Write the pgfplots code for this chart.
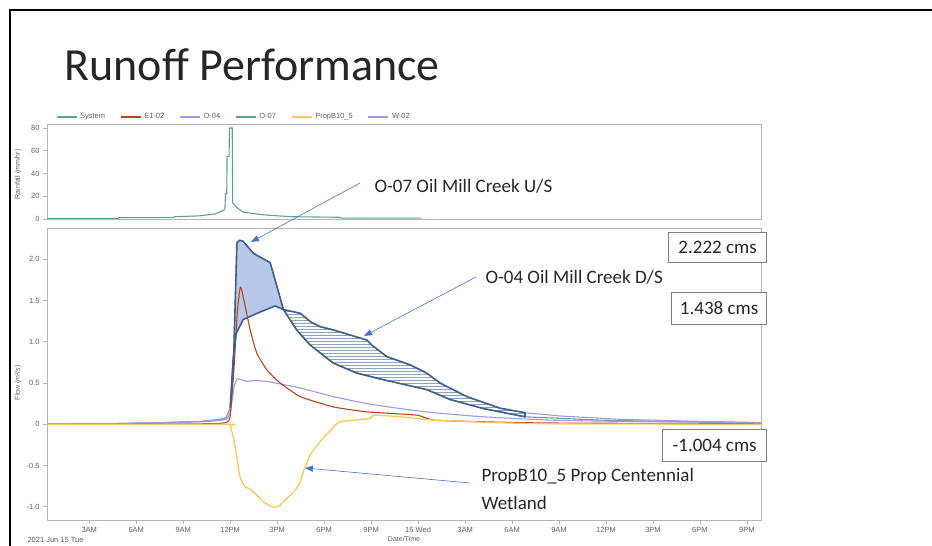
\documentclass[border=0pt]{standalone}
\usepackage{fontspec}
\setmainfont{Carlito}
\newfontfamily\chartfont{Liberation Sans}
\usepackage{pgfplots}
\usepackage{pgfplotstable}
\pgfplotsset{compat=1.18}
\usetikzlibrary{patterns,arrows.meta}

\definecolor{sysgreen}{HTML}{5BA38D}
\definecolor{eorange}{HTML}{B3471F}
\definecolor{lav}{HTML}{A197EE}
\definecolor{propyel}{HTML}{F6C958}
\definecolor{darkblue}{HTML}{41618A}
\definecolor{fillblue}{HTML}{B7C8E8}
\definecolor{hatch}{HTML}{8FA3C0}
\definecolor{arrowblue}{HTML}{4A72C2}
\definecolor{tickgray}{HTML}{5F5F5F}
\definecolor{axgray}{HTML}{B4B4B4}
\definecolor{boxgray}{HTML}{808080}

% x = hours after midnight, 15 Jun 2021
\pgfplotstableread{
h v
0.3 0.5
4.85 0.5
4.9 1.2
8.38 1.2
8.43 2.0
10.08 2.8
11.04 4.5
11.55 7.5
11.66 8.5
11.70 22
11.78 22
11.80 55
11.93 55
11.95 80
12.13 80
12.16 14
12.43 10
12.83 6
13.91 4
14.74 3
16.02 2
19.02 1.5
19.1 0.8
24.19 0.8
}\tabrain

\pgfplotstableread{
h v
0.3 0
3.70 0.005
6.89 0.015
10.08 0.035
11.36 0.06
11.74 0.08
12.00 0.2
12.21 0.74
12.43 2.20
12.59 2.23
12.81 2.22
13.49 2.07
14.55 1.96
15.40 1.39
16.26 1.14
17.11 0.96
18.59 0.74
20.09 0.62
21.78 0.54
24.55 0.42
26.04 0.30
28.17 0.19
30.83 0.09
35.62 0.05
42.00 0.025
45.9 0.015
}\tabOseven

\pgfplotstableread{
h v
0.3 0
3.70 0.005
6.89 0.015
10.08 0.03
11.36 0.05
11.74 0.07
12.00 0.2
12.19 0.8
12.38 1.1
12.83 1.27
13.91 1.36
14.87 1.435
15.40 1.39
16.47 1.345
16.79 1.297
17.11 1.244
17.74 1.183
18.59 1.143
19.66 1.082
20.73 1.02
21.04 0.96
22.00 0.82
23.49 0.72
24.55 0.62
25.40 0.50
27.11 0.335
29.24 0.194
30.83 0.14
33.06 0.10
36.89 0.06
42.00 0.035
45.9 0.02
}\tabOfour

% shaded area where O-07 runs above O-04 (O-07 forward, O-04 back)
\pgfplotstableread{
h v
12.00 0.2
12.21 0.74
12.43 2.20
12.59 2.23
12.81 2.22
13.49 2.07
14.55 1.96
15.40 1.39
14.87 1.435
13.91 1.36
12.83 1.27
12.38 1.1
12.19 0.8
12.00 0.2
}\tabAreaA

% hatched area where O-04 runs above O-07 (O-04 forward, O-07 back)
\pgfplotstableread{
h v
15.40 1.39
16.47 1.345
16.79 1.297
17.11 1.244
17.74 1.183
18.59 1.143
19.66 1.082
20.73 1.02
21.04 0.96
22.00 0.82
23.49 0.72
24.55 0.62
25.40 0.50
27.11 0.335
29.24 0.194
30.83 0.14
30.83 0.09
28.17 0.19
26.04 0.30
24.55 0.42
21.78 0.54
20.09 0.62
18.59 0.74
17.11 0.96
16.26 1.14
15.40 1.39
}\tabAreaB

\pgfplotstableread{
h v
0.3 0
10.08 0.005
11.74 0.02
12.00 0.1
12.25 0.7
12.45 1.35
12.64 1.66
12.77 1.60
12.96 1.43
13.28 1.14
13.70 0.86
14.34 0.66
15.19 0.50
16.47 0.335
18.59 0.21
20.73 0.15
23.92 0.11
24.98 0.05
28.15 0.03
32.43 0.015
45.9 0.005
}\tabEone

\pgfplotstableread{
h v
0.3 0
3.70 0.005
10.08 0.03
11.74 0.06
12.00 0.15
12.25 0.45
12.43 0.55
12.70 0.54
13.07 0.52
13.47 0.53
14.34 0.52
15.40 0.48
16.47 0.44
18.59 0.335
20.73 0.25
22.85 0.19
24.98 0.14
28.17 0.09
32.43 0.05
36.89 0.035
45.9 0.02
}\tabWtwo

\pgfplotstableread{
h v
0.3 0
11.87 0
12.00 -0.02
12.21 -0.17
12.43 -0.41
12.64 -0.65
12.96 -0.76
13.21 -0.78
13.49 -0.82
14.13 -0.94
14.66 -1.0
14.98 -1.004
15.19 -0.98
15.62 -0.90
16.15 -0.80
16.47 -0.70
16.68 -0.57
17.11 -0.37
17.74 -0.21
18.38 -0.08
19.02 0.03
20.94 0.07
21.15 0.11
22.85 0.09
24.98 0.05
28.15 0.025
32.43 0.005
45.9 0
}\tabProp

\pgfplotsset{
  slideaxis/.style={
    scale only axis, width=714pt, xmin=0.3, xmax=45.9,
    axis line style={axgray, line width=0.8pt},
    tick style={axgray, line width=0.6pt},
    tick align=outside, major tick length=4pt,
    xtick pos=bottom, ytick pos=left,
    ticklabel style={font=\chartfont\fontsize{7.5}{8}\selectfont, text=tickgray},
    label style={font=\chartfont\fontsize{7}{8}\selectfont, text=tickgray},
  },
}

\begin{document}
\begin{tikzpicture}
\path[use as bounding box] (0pt,0pt) rectangle (932pt,-546pt);
\draw[line width=2.5pt] (10pt,-546pt) -- (10pt,-10pt) -- (932pt,-10pt);
\node[anchor=base west, font=\fontsize{46}{50}\selectfont, text=black!85] at (61pt,-80pt) {Runoff Performance};

% rainfall panel
\begin{axis}[slideaxis,
  at={(47pt,-124pt)}, anchor=north west, height=95pt,
  ymin=0, ymax=83.5,
  xtick=\empty,
  ytick={0,20,40,60,80}, yticklabels={0,20,40,60,80},
  ylabel={Rainfall (mm/hr)},
  ylabel style={at={(axis description cs:-0.0406,0.47)}, anchor=center},
  legend columns=6,
  legend style={at={(axis description cs:0.008,1.074)}, anchor=west, draw=none, fill=none,
    font=\chartfont\fontsize{7.5}{8}\selectfont, text=tickgray,
    /tikz/every odd column/.append style={column sep=1pt},
    /tikz/every even column/.append style={column sep=13pt}},
  legend image code/.code={\draw[#1, line width=1.2pt] (0pt,0pt) -- (20pt,0pt);},
]
\addplot[sysgreen, line width=1.1pt] table[x=h, y=v] {\tabrain};
\addlegendimage{eorange}
\addlegendimage{lav}
\addlegendimage{sysgreen}
\addlegendimage{propyel}
\addlegendimage{lav}
\legend{System,E1-02,O-04,O-07,PropB10\_5,W-02}
\end{axis}

% flow panel
\begin{axis}[slideaxis,
  at={(47pt,-228pt)}, anchor=north west, height=292pt,
  ymin=-1.161, ymax=2.379,
  xtick={3,6,...,45},
  xticklabels={3AM,6AM,9AM,12PM,3PM,6PM,9PM,16 Wed,3AM,6AM,9AM,12PM,3PM,6PM,9PM},
  ytick={-1,-0.5,0,0.5,1,1.5,2},
  yticklabels={-1.0,-0.5,0,0.5,1.0,1.5,2.0},
  ylabel={Flow (m³/s)},
  ylabel style={at={(axis description cs:-0.0406,0.47)}, anchor=center},
  xlabel={Date/Time},
  xlabel style={at={(axis description cs:0.5,-0.065)}, anchor=center},
]
\addplot[sysgreen, line width=1.1pt] table[x=h, y=v] {\tabOseven};
\addplot[lav, line width=1.1pt] table[x=h, y=v] {\tabOfour};
\addplot[fill=fillblue, draw=none] table[x=h, y=v] {\tabAreaA};
\addplot[pattern=horizontal lines, pattern color=hatch, draw=none] table[x=h, y=v] {\tabAreaB};
\addplot[lav, line width=1.1pt, smooth, tension=0.3] table[x=h, y=v] {\tabWtwo};
\addplot[eorange, line width=1.1pt, smooth, tension=0.3] table[x=h, y=v] {\tabEone};
\addplot[propyel, line width=1.3pt, smooth, tension=0.3] table[x=h, y=v] {\tabProp};
\addplot[darkblue, line width=1.6pt, line join=round] table[x=h, y=v] {\tabAreaA};
\addplot[darkblue, line width=1.6pt, line join=round] table[x=h, y=v] {\tabAreaB};
\end{axis}

\begin{scope}[x=1pt, y=-1pt]
\node[anchor=west, font=\chartfont\fontsize{7.5}{8}\selectfont, text=tickgray] at (24,540) {2021 Jun 15 Tue};
\begin{scope}[font=\fontsize{19}{23}\selectfont, text=black!85]
\node[anchor=base west] at (371,192) {O-07 Oil Mill Creek U/S};
\node[anchor=base west] at (482,283) {O-04 Oil Mill Creek D/S};
\node[anchor=base west] at (478,481) {PropB10\_5 Prop Centennial};
\node[anchor=base west] at (478,509) {Wetland};
\node[draw=boxgray, fill=white, line width=0.8pt, minimum width=98pt, minimum height=30pt, inner sep=0pt, anchor=north east] at (767,232) {2.222 cms};
\node[draw=boxgray, fill=white, line width=0.8pt, minimum width=95pt, minimum height=32pt, inner sep=0pt, anchor=north east] at (767,292) {1.438 cms};
\node[draw=boxgray, fill=white, line width=0.8pt, minimum width=104pt, minimum height=32pt, inner sep=0pt, anchor=north east] at (767,429) {-1.004 cms};
\end{scope}
\draw[arrowblue, line width=0.6pt, -{Triangle[length=8pt,width=6pt]}] (360,183) -- (251,242);
\draw[arrowblue, line width=0.6pt, -{Triangle[length=8pt,width=6pt]}] (476,277) -- (364,336);
\draw[arrowblue, line width=0.6pt, -{Triangle[length=8pt,width=6pt]}] (470,483) -- (305,468);
\end{scope}
\end{tikzpicture}
\end{document}
